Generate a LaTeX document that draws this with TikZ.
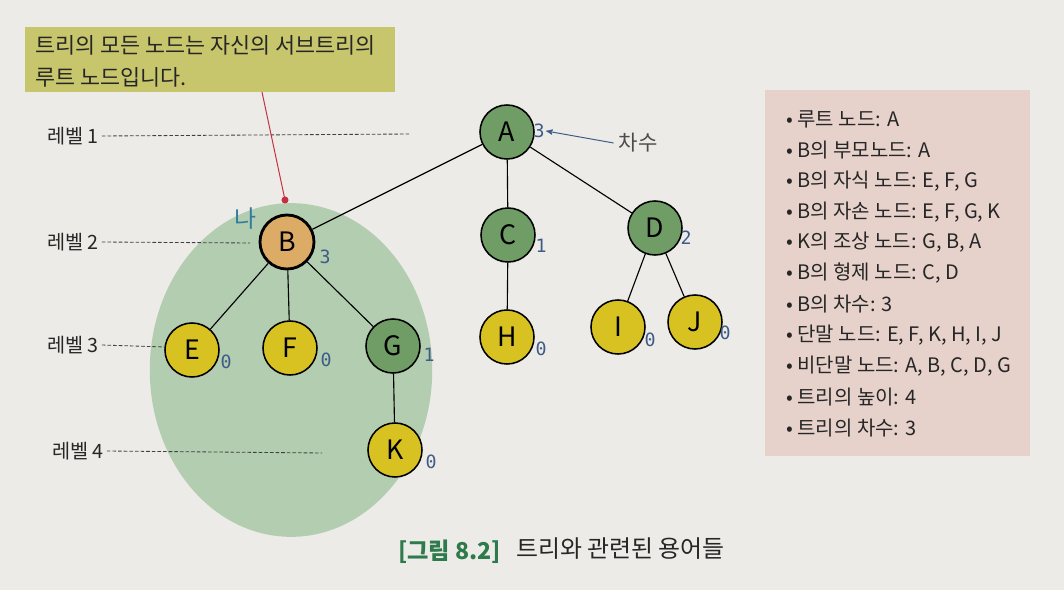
\documentclass[tikz,border=0pt]{standalone}
\usepackage{fontspec}
\setmainfont{Noto Sans CJK KR}
\newfontfamily\degfont{DejaVu Sans Mono}
\usetikzlibrary{arrows}

\definecolor{paper}{HTML}{ECEBE8}
\definecolor{bubble}{HTML}{B3CDB0}
\definecolor{inner}{HTML}{709C65}
\definecolor{leaf}{HTML}{D8C221}
\definecolor{subroot}{HTML}{DCAB66}
\definecolor{callbox}{HTML}{C8C66C}
\definecolor{listbox}{HTML}{E6D2CB}
\definecolor{degblue}{HTML}{3F5B88}
\definecolor{pinred}{HTML}{C3303E}
\definecolor{capgreen}{HTML}{2E7A4C}

\begin{document}
\begin{tikzpicture}[x=0.025cm,y=-0.025cm,>=stealth',
    tree node/.style={circle,draw,line width=1.1pt,minimum size=1.35cm,inner sep=0pt,font=\fontsize{19}{19}\selectfont},
    inner node/.style={tree node,fill=inner},
    leaf node/.style={tree node,fill=leaf},
    deg/.style={text=degblue,font=\degfont\fontsize{13}{13}\selectfont,inner sep=1pt},
    level label/.style={font=\fontsize{14}{14}\selectfont,text=black!85,inner sep=2pt},
    level line/.style={dash pattern=on 2.5pt off 1.5pt,line width=0.6pt,black!75},
    item/.style={anchor=west,font=\fontsize{14.2}{14.2}\selectfont,text=black!85,inner sep=0pt}]

  % paper
  \fill[paper] (0,0) rectangle (1064,590);

  % subtree bubble
  \fill[bubble] (291,370) ellipse [x radius=3.53cm, y radius=4.17cm];

  % levels
  \node[level label] (lv1) at (73,136) {레벨 1};
  \node[level label] (lv2) at (73,242) {레벨 2};
  \node[level label] (lv3) at (73,345) {레벨 3};
  \node[level label] (lv4) at (78,451) {레벨 4};
  \coordinate (lv1end) at (410,134);
  \coordinate (lv2end) at (250,243);
  \coordinate (lv3end) at (165,347);
  \coordinate (lv4end) at (322,453);
  \draw[level line] (lv1.east) -- (lv1end);
  \draw[level line] (lv2.east) -- (lv2end);
  \draw[level line] (lv3.east) -- (lv3end);
  \draw[level line] (lv4.east) -- (lv4end);

  % tree
  \node[inner node] (A) at (507,132) {A};
  \node[tree node,fill=subroot,line width=2pt] (B) at (287,242) {B};
  \node[inner node] (C) at (508,235) {C};
  \node[inner node] (D) at (655,228) {D};
  \node[leaf node] (E) at (192,350) {E};
  \node[leaf node] (F) at (290,348) {F};
  \node[inner node] (G) at (393,346) {G};
  \node[leaf node] (H) at (507,337) {H};
  \node[leaf node] (I) at (618,327) {I};
  \node[leaf node] (J) at (695,322) {J};
  \node[leaf node] (K) at (395,450) {K};

  \path[draw,line width=0.8pt]
        (A) edge (B) edge (C) edge (D)
        (B) edge (E) edge (F) edge (G)
        (G) edge (K)
        (C) edge (H)
        (D) edge (I) edge (J);

  % degrees
  \node[deg] (degA) at (539,131) {3};
  \node[deg] (degB) at (325,257) {3};
  \node[deg] (degC) at (541,246) {1};
  \node[deg] (degD) at (686,238) {2};
  \node[deg] (degE) at (226,362) {0};
  \node[deg] (degF) at (326,360) {0};
  \node[deg] (degG) at (429,355) {1};
  \node[deg] (degH) at (541,349) {0};
  \node[deg] (degI) at (650,340) {0};
  \node[deg] (degJ) at (725,333) {0};
  \node[deg] (degK) at (431,462) {0};

  \node[font=\fontsize{15}{15}\selectfont,text=black!70] (chasu) at (638,143) {차수};
  \draw[->,degblue,line width=0.7pt] (chasu.west) -- (degA.east);

  \node[text=degblue!80!cyan,font=\fontsize{17}{17}\selectfont] (na) at (245,219) {나};

  % callout
  \fill[callbox] (25,27) rectangle (395,92);
  \node[anchor=north west,align=left,inner sep=0pt,text=black!85,
        font=\fontsize{15.5}{23}\selectfont] (note) at (35,35)
        {트리의 모든 노드는 자신의 서브트리의\\루트 노드입니다.};
  \coordinate (pinBase) at (262,92);
  \coordinate (pinTip) at (285,200);
  \draw[pinred,line width=0.7pt] (pinBase) -- (pinTip);
  \fill[pinred] (pinTip) circle [radius=2.5pt];

  % terms
  \fill[listbox] (765,90) rectangle (1030,456);
  \foreach \txt [count=\i from 0] in {루트 노드: A,
      B의 부모노드: A,
      {B의 자식 노드: E, F, G},
      {B의 자손 노드: E, F, G, K},
      {K의 조상 노드: G, B, A},
      {B의 형제 노드: C, D},
      B의 차수: 3,
      {단말 노드: E, F, K, H, I, J},
      {비단말 노드: A, B, C, D, G},
      트리의 높이: 4,
      트리의 차수: 3}
    \node[item] (item\i) at (786,{119+30.9*\i}) {• \txt};

  % caption
  \node[anchor=west,inner sep=0pt,text=capgreen,font=\bfseries\fontsize{16.5}{16.5}\selectfont] (capnum) at (398,552) {[그림 8.2]};
  \node[anchor=west,inner sep=0pt,text=black!85,font=\fontsize{17}{17}\selectfont] (captxt) at (516,549) {트리와 관련된 용어들};
\end{tikzpicture}
\end{document}
